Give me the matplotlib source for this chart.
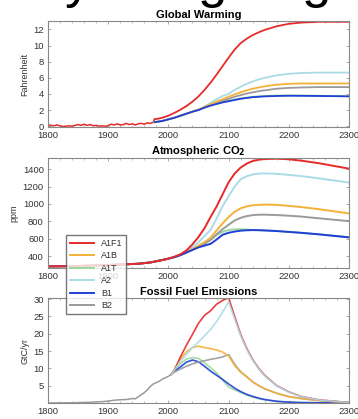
import matplotlib
matplotlib.use("Agg")
import matplotlib.pyplot as plt
from matplotlib.ticker import MultipleLocator

plt.rcParams['font.family'] = ['Liberation Sans', 'DejaVu Sans']

scenarios = ['A1F1', 'A1B', 'A1T', 'A2', 'B1', 'B2']
colors = {'A1F1': '#e62a2a', 'A1B': '#f4b13a', 'A1T': '#9ad99a',
          'A2': '#abdbe6', 'B1': '#1f3fd8', 'B2': '#9a9a9a'}

# --- global warming (Fahrenheit) ---
hist_warm_years = [1800, 1805, 1810, 1815, 1820, 1825, 1830, 1835, 1840, 1845, 1850, 1855,
                   1860, 1865, 1870, 1875, 1880, 1885, 1890, 1895, 1900, 1905, 1910, 1915,
                   1920, 1925, 1930, 1935, 1940, 1945, 1950, 1955, 1960, 1965, 1970, 1975, 1977]
hist_warm = [0.15, 0.1, 0.05, 0.15, 0.05, -0.05, 0.0, 0.05, 0.0, 0.1, 0.2, 0.1,
             0.25, 0.1, 0.2, 0.05, 0.1, 0.0, 0.05, 0.0, 0.05, 0.25, 0.15, 0.3,
             0.15, 0.2, 0.35, 0.2, 0.3, 0.15, 0.3, 0.35, 0.25, 0.4, 0.35, 0.5, 0.85]

warm_years = [1977, 1990, 2000, 2010, 2020, 2030, 2040, 2050, 2060, 2070, 2080, 2090, 2100,
              2110, 2120, 2130, 2140, 2150, 2160, 2180, 2200, 2220, 2250, 2300]
warm = {
    'A1F1': [0.85, 1.05, 1.3, 1.65, 2.05, 2.5, 3.05, 3.7, 4.5, 5.4, 6.4, 7.45, 8.5,
             9.5, 10.3, 10.85, 11.3, 11.65, 11.95, 12.4, 12.7, 12.85, 12.95, 12.95],
    'A1B':  [0.5, 0.65, 0.85, 1.05, 1.3, 1.55, 1.8, 2.05, 2.4, 2.75, 3.05, 3.35, 3.65,
             3.95, 4.2, 4.45, 4.65, 4.8, 4.95, 5.15, 5.25, 5.3, 5.3, 5.3],
    'A1T':  [0.5, 0.65, 0.85, 1.05, 1.3, 1.55, 1.8, 2.05, 2.35, 2.6, 2.8, 3.0, 3.15,
             3.3, 3.45, 3.55, 3.65, 3.7, 3.75, 3.8, 3.82, 3.8, 3.78, 3.72],
    'A2':   [0.5, 0.65, 0.85, 1.05, 1.3, 1.55, 1.8, 2.05, 2.45, 2.9, 3.35, 3.75, 4.0,
             4.5, 4.9, 5.25, 5.55, 5.8, 6.0, 6.3, 6.5, 6.6, 6.65, 6.65],
    'B1':   [0.5, 0.65, 0.85, 1.05, 1.3, 1.55, 1.8, 2.0, 2.3, 2.55, 2.75, 2.95, 3.1,
             3.25, 3.4, 3.5, 3.6, 3.65, 3.7, 3.75, 3.78, 3.77, 3.75, 3.7],
    'B2':   [0.5, 0.65, 0.85, 1.05, 1.3, 1.55, 1.8, 2.05, 2.35, 2.65, 2.9, 3.15, 3.4,
             3.65, 3.85, 4.05, 4.2, 4.35, 4.45, 4.65, 4.75, 4.8, 4.85, 4.85],
}

# --- atmospheric CO2 (ppm) ---
co2_years = [1800, 1850, 1900, 1950, 1970, 1990, 2000, 2010, 2020, 2030, 2040, 2050, 2060,
             2070, 2080, 2090, 2100, 2110, 2120, 2130, 2140, 2150, 2160, 2180, 2200, 2220,
             2250, 2300]
co2_hist = [280, 285, 296, 311, 326, 354, 370]
co2 = {
    'A1F1': co2_hist + [392, 420, 465, 535, 620, 720, 850, 970, 1110, 1250, 1350, 1420,
                        1465, 1495, 1510, 1518, 1522, 1515, 1500, 1470, 1407],
    'A1B':  co2_hist + [390, 415, 445, 480, 520, 560, 610, 695, 775, 850, 910, 950,
                        972, 985, 990, 993, 990, 978, 965, 940, 891],
    'A1T':  co2_hist + [388, 412, 442, 475, 505, 545, 590, 640, 680, 700, 708, 710,
                        705, 700, 697, 695, 688, 678, 668, 650, 617],
    'A2':   co2_hist + [390, 415, 450, 500, 560, 630, 700, 830, 975, 1090, 1200, 1285,
                        1320, 1340, 1350, 1352, 1348, 1335, 1322, 1295, 1247],
    'B1':   co2_hist + [386, 410, 440, 470, 500, 520, 540, 590, 645, 668, 682, 692,
                        697, 699, 698, 695, 688, 678, 668, 650, 615],
    'B2':   co2_hist + [388, 412, 442, 475, 505, 540, 585, 650, 710, 760, 810, 840,
                        860, 871, 876, 877, 872, 865, 855, 835, 802],
}

# --- fossil fuel emissions (GtC/yr) ---
hist_em_years = [1800, 1850, 1870, 1890, 1900, 1910, 1920, 1930, 1940, 1945, 1950, 1955,
                 1960, 1965, 1970, 1975, 1980, 1985, 1990, 1995, 2000, 2005]
hist_em = [0.0, 0.1, 0.2, 0.4, 0.55, 0.8, 0.95, 1.0, 1.3, 1.2, 1.8, 2.4,
           3.0, 3.8, 4.8, 5.5, 5.9, 6.3, 6.9, 7.3, 7.7, 8.3]

em_years = [2005, 2010, 2020, 2030, 2040, 2050, 2060, 2070, 2080, 2090, 2100, 2110, 2120,
            2130, 2140, 2150, 2160, 2180, 2200, 2220, 2250, 2300]
em = {
    'A1F1': [8.3, 9.5, 13.3, 16.7, 19.8, 23.0, 25.3, 26.6, 28.5, 29.6, 30.4, 25.0, 19.8,
             15.8, 12.5, 10.0, 8.0, 5.0, 3.2, 1.9, 0.9, 0.15],
    'A1B':  [8.3, 9.8, 12.7, 14.8, 16.0, 16.4, 16.0, 15.7, 15.3, 14.7, 13.6, 10.8, 8.9,
             7.6, 6.1, 5.0, 4.1, 2.8, 1.85, 1.3, 0.7, 0.15],
    'A1T':  [8.3, 9.6, 11.3, 12.7, 13.1, 12.9, 11.6, 10.2, 8.7, 6.6, 4.6, 3.8, 3.0,
             2.3, 1.7, 1.25, 0.9, 0.45, 0.2, 0.1, 0.05, 0.0],
    'A2':   [8.3, 9.5, 12.0, 14.0, 16.0, 17.6, 19.4, 21.2, 23.5, 26.2, 29.2, 24.3, 19.4,
             15.5, 12.3, 9.8, 7.8, 4.9, 3.1, 1.85, 0.85, 0.15],
    'B1':   [8.3, 9.2, 10.4, 11.8, 12.4, 11.9, 10.6, 9.2, 8.0, 6.8, 5.5, 4.3, 3.3,
             2.5, 1.9, 1.4, 1.0, 0.5, 0.25, 0.12, 0.05, 0.0],
    'B2':   [8.3, 8.9, 9.8, 10.6, 11.3, 11.8, 12.2, 12.6, 12.9, 13.3, 14.0, 11.2, 9.0,
             7.6, 6.1, 5.0, 4.1, 2.8, 1.85, 1.3, 0.7, 0.15],
}

draw_order = ['A1T', 'B2', 'A2', 'A1B', 'B1', 'A1F1']

fig = plt.figure(figsize=(3.58, 4.19), dpi=100)

# cropped slide title above the charts
for ch, xp in [('y', 78), ('g', 212), ('g', 316)]:
    fig.text(xp / 358, 1 + 3 / 419, ch, fontsize=38, ha='center', va='baseline')

ax1 = fig.add_axes([48 / 358, 1 - 127 / 419, 301 / 358, 106 / 419])
ax2 = fig.add_axes([48 / 358, 1 - 268 / 419, 301 / 358, 110 / 419])
ax3 = fig.add_axes([48 / 358, 1 - 403 / 419, 301 / 358, 105 / 419])

ax1.plot(hist_warm_years, hist_warm, color=colors['A1F1'], lw=1.1)
for s in draw_order:
    ax1.plot(warm_years, warm[s], color=colors[s], lw=1.3)
for s in draw_order:
    ax2.plot(co2_years, co2[s], color=colors[s], lw=1.4, label=s)
ax3.plot(hist_em_years, hist_em, color=colors['B2'], lw=1.1)
for s in ['A1T', 'B1', 'B2', 'A1B', 'A1F1', 'A2']:
    ax3.plot(em_years, em[s], color=colors[s], lw=1.2, alpha=0.9)

ax1.set_ylim(-0.1, 13.05)
ax1.set_yticks(range(0, 13, 2))
ax2.set_ylim(262, 1530)
ax2.set_yticks(range(400, 1401, 200))
ax3.set_ylim(0, 30.3)
ax3.set_yticks(range(5, 31, 5))

titles = ['Global Warming', r'Atmospheric CO$_\mathbf{2}$', 'Fossil Fuel Emissions']
ylabels = ['Fahrenheit', 'ppm', 'GtC/yr']
for ax, t, yl in zip([ax1, ax2, ax3], titles, ylabels):
    ax.set_xlim(1800, 2300)
    ax.set_xticks(range(1800, 2301, 100))
    ax.xaxis.set_minor_locator(MultipleLocator(20))
    ax.set_title(t, fontsize=8, fontweight='bold', pad=2)
    ax.set_ylabel(yl, fontsize=6.5, color='#333333', labelpad=3)
    ax.tick_params(which='both', direction='in', top=True, right=True,
                   labelsize=6.8, colors='#888888', labelcolor='#333333', pad=3)
    ax.tick_params(which='major', length=2.5, width=0.5)
    ax.tick_params(which='minor', length=1.5, width=0.4)
    for sp in ax.spines.values():
        sp.set_color('#888888')
        sp.set_linewidth(0.8)

handles, labels = ax2.get_legend_handles_labels()
order = [labels.index(s) for s in scenarios]
fig.legend([handles[i] for i in order], scenarios,
           loc='upper left', bbox_to_anchor=(66 / 358, 1 - 235 / 419),
           fontsize=6.5, frameon=True, fancybox=False, edgecolor='#555555',
           handlelength=2.6, handletextpad=0.8, labelspacing=0.38,
           borderpad=0.45, borderaxespad=0, labelcolor='#333333')

fig.savefig('out.png', dpi=100)
